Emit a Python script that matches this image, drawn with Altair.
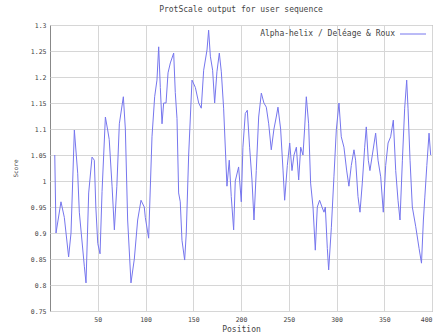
import altair as alt
import pandas as pd

# Alpha-helix profile (window-averaged score per residue position)
positions = [
    5, 6.3, 11.5, 15, 19.5, 22, 25.5, 29, 30.7, 36, 37.7, 40.5, 44, 46.4, 48, 50,
    52.4, 54.5, 58, 60.4, 62, 65, 67.4, 70, 72.6, 76.8, 78.9, 81.3, 84.8, 88.3,
    91.8, 95.3, 98.7, 99.8, 103.3, 106.8, 109.6, 112, 113.8, 115.5, 117.3, 119,
    121.5, 123.6, 126, 129.5, 131.2, 133, 134.7, 136.4, 138.2, 141, 142.7, 145.2,
    148.7, 152.2, 155.7, 158.4, 160.9, 164.4, 166.1, 167.9, 170.3, 172.4, 174.8,
    177.3, 179.4, 181.8, 185.3, 187.7, 189.8, 192.3, 194, 197.5, 200.3, 202,
    204.5, 206.6, 209, 211.5, 213.6, 216, 218.5, 221.3, 224, 226.5, 229, 231.7,
    234.5, 236.9, 238.7, 241.5, 244, 245.7, 248.5, 251, 253.4, 255.5, 258, 260.4,
    262.5, 264.9, 266.6, 268.4, 270.8, 272.9, 275.4, 277.8, 279.9, 282.3, 284.8,
    286.9, 288.3, 290.4, 291.8, 294.6, 297.3, 299.8, 302.6, 305, 307.8, 310.6,
    313, 315.5, 318.3, 320, 322.5, 324.6, 327, 329.5, 331.2, 333.3, 335, 337.5,
    341, 343.5, 346.3, 349, 351.5, 354, 356.7, 359.5, 362, 364.4, 366.5, 369,
    371.4, 373.5, 374.9, 377, 379.4, 383, 386.5, 389, 391, 392.5, 394.6, 396.9,
    398.6,
]
scores = [
    1.05, 0.90, 0.96, 0.93, 0.854, 0.90, 1.098, 1.015, 0.94, 0.835, 0.804, 0.977,
    1.046, 1.04, 0.95, 0.88, 0.86, 0.98, 1.123, 1.098, 1.08, 0.99, 0.906, 0.99,
    1.11, 1.162, 1.10, 0.925, 0.804, 0.85, 0.925, 0.963, 0.95, 0.93, 0.89,
    1.085, 1.162, 1.194, 1.258, 1.18, 1.11, 1.15, 1.15, 1.208, 1.227, 1.246,
    1.17, 1.12, 0.977, 0.96, 0.886, 0.848, 0.90, 1.05, 1.194, 1.18, 1.15, 1.14,
    1.213, 1.252, 1.29, 1.24, 1.213, 1.15, 1.21, 1.246, 1.21, 1.14, 0.99, 1.04,
    0.97, 0.906, 1.0, 1.027, 0.96, 1.065, 1.13, 1.136, 1.065, 1.002, 0.925,
    1.02, 1.123, 1.169, 1.15, 1.142, 1.11, 1.06, 1.10, 1.123, 1.142, 1.10,
    1.021, 0.963, 1.03, 1.073, 1.02, 1.05, 1.065, 1.002, 1.065, 1.05, 1.10,
    1.162, 1.11, 0.996, 0.95, 0.867, 0.95, 0.963, 0.95, 0.94, 0.95, 0.87,
    0.829, 0.91, 1.008, 1.098, 1.15, 1.085, 1.065, 1.021, 0.99, 1.03, 1.06,
    1.04, 0.97, 0.94, 0.996, 1.065, 1.104, 1.04, 1.02, 1.05, 1.092, 1.04,
    1.008, 0.94, 1.03, 1.073, 1.085, 1.117, 1.02, 0.963, 0.925, 1.04, 1.14,
    1.194, 1.14, 1.04, 0.95, 0.912, 0.87, 0.842, 0.925, 0.969, 1.03, 1.092,
    1.05,
]
x_ticks = [50, 100, 150, 200, 250, 300, 350, 400]
y_ticks = [0.75, 0.8, 0.85, 0.9, 0.95, 1.0, 1.05, 1.1, 1.15, 1.2, 1.25, 1.3]
series_name = "Alpha-helix / Deléage & Roux"

LINE_COLOR = "#7676ee"
TEXT_COLOR = "#444444"
mono = "DejaVu Sans Mono"

df = pd.DataFrame({"Position": positions, "Score": scores})
key_df = pd.DataFrame({"label": [series_name]})

profile = (
    alt.Chart(df)
    .mark_line(strokeWidth=1, clip=True, color=LINE_COLOR)
    .encode(
        x=alt.X(
            "Position:Q",
            scale=alt.Scale(domain=[0, 400], nice=False, zero=False),
            axis=alt.Axis(values=x_ticks, title="Position", labelPadding=5,
                          titlePadding=3, labelFontSize=6.5),
        ),
        y=alt.Y(
            "Score:Q",
            scale=alt.Scale(domain=[0.75, 1.3], nice=False, zero=False),
            axis=alt.Axis(values=y_ticks, format=".3~g", title="Score",
                          labelPadding=4, titlePadding=12, labelFontSize=6.5,
                          titleFontSize=6),
        ),
    )
)

# gnuplot-style key: label first, line sample on its right
key_text = (
    alt.Chart(key_df)
    .mark_text(font=mono, fontSize=8, color=TEXT_COLOR, align="right",
               baseline="middle")
    .encode(text="label:N", x=alt.value(345), y=alt.value(9))
)
key_line = (
    alt.Chart(key_df)
    .mark_rule(color=LINE_COLOR, strokeWidth=1)
    .encode(x=alt.value(350), x2=alt.value(376), y=alt.value(9))
)

chart = (
    alt.layer(profile, key_text, key_line)
    .properties(
        width=382,
        height=286,
        autosize=alt.AutoSizeParams(type="none"),
        padding={"left": 50, "top": 25, "right": 4, "bottom": 24},
        title=alt.TitleParams(
            "ProtScale output for user sequence",
            font=mono, fontSize=8, fontWeight="normal", color=TEXT_COLOR,
            offset=8,
        ),
    )
    .configure_view(stroke="#888888", strokeWidth=1)
    .configure_axis(
        labelFont=mono, titleFont=mono, labelColor=TEXT_COLOR,
        titleColor=TEXT_COLOR, titleFontWeight="normal", titleFontSize=8,
        gridColor="#d6d6d6", gridWidth=1, domain=False, ticks=False,
    )
)

chart.save("out.html", embed_options={"renderer": "svg", "actions": False})
